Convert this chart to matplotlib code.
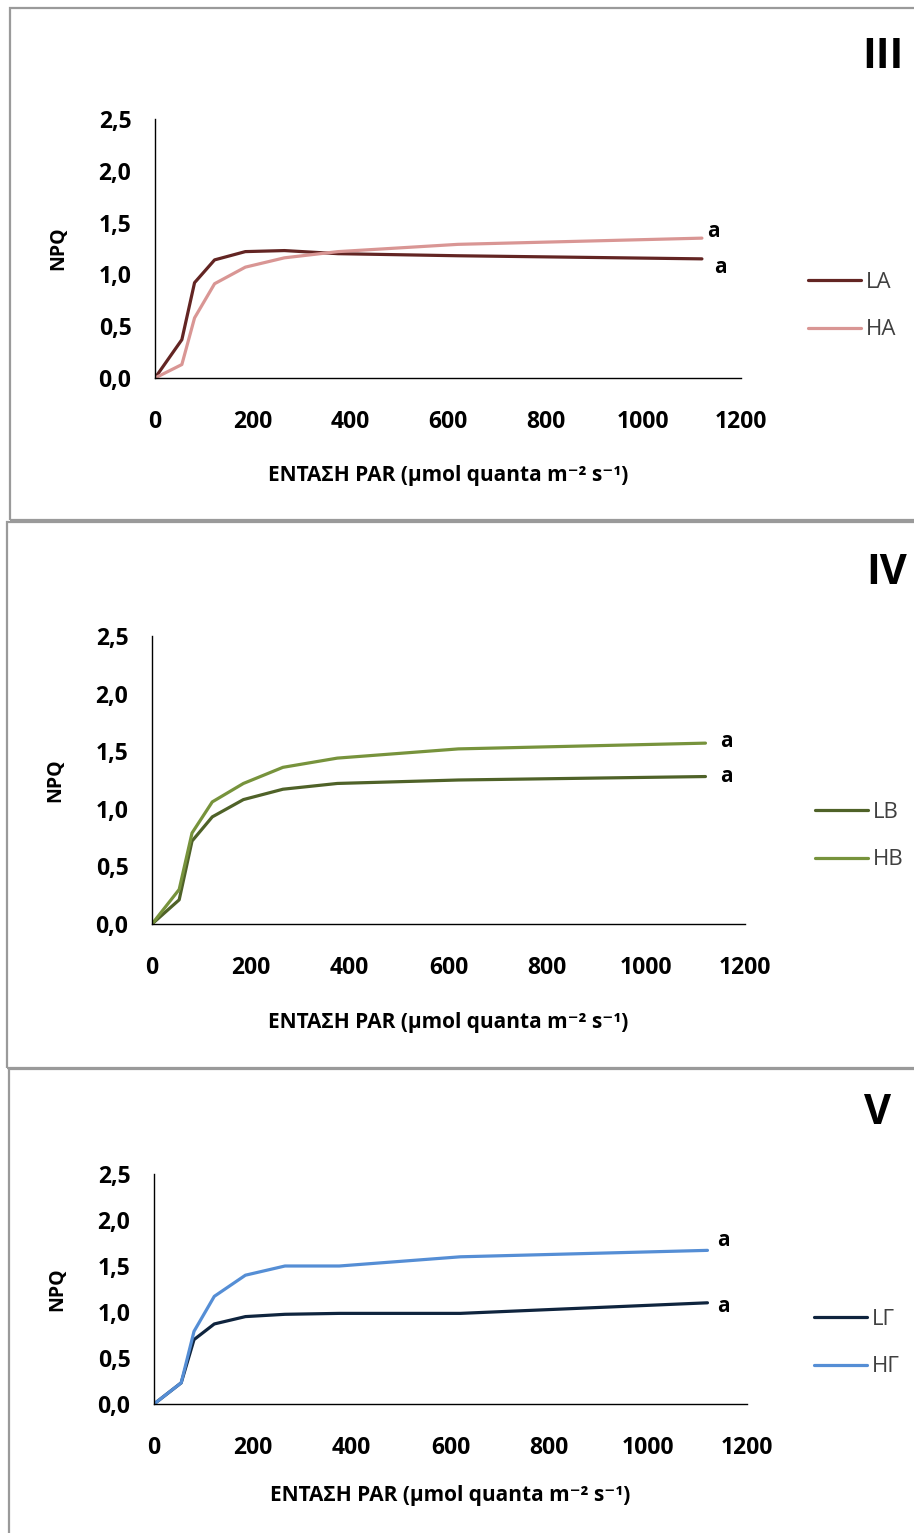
import matplotlib
matplotlib.use('Agg')
import matplotlib.pyplot as plt
from matplotlib.patches import Rectangle

plt.rcParams['font.family'] = ['Open Sans', 'DejaVu Sans']

# light intensities of the light-curve steps (μmol quanta m-2 s-1)
par = [0, 55, 81, 122, 185, 265, 375, 620, 1120]

# NPQ per treatment
npq_la = [0.0, 0.37, 0.92, 1.14, 1.22, 1.23, 1.20, 1.18, 1.15]
npq_ha = [0.0, 0.13, 0.58, 0.91, 1.07, 1.16, 1.22, 1.29, 1.35]
npq_lb = [0.0, 0.21, 0.72, 0.93, 1.08, 1.17, 1.22, 1.25, 1.28]
npq_hb = [0.0, 0.30, 0.79, 1.06, 1.22, 1.36, 1.44, 1.52, 1.57]
npq_lg = [0.0, 0.23, 0.70, 0.87, 0.95, 0.975, 0.985, 0.985, 1.10]
npq_hg = [0.0, 0.23, 0.79, 1.17, 1.40, 1.50, 1.50, 1.60, 1.67]

x_ticks = [0, 200, 400, 600, 800, 1000, 1200]
y_ticks = [0.0, 0.5, 1.0, 1.5, 2.0, 2.5]
y_tick_labels = ['0,0', '0,5', '1,0', '1,5', '2,0', '2,5']

W, H = 914, 1533
fig = plt.figure(figsize=(W / 100, H / 100), dpi=100)


def fx(px):
    return px / W


def fy(py):
    return 1 - py / H


def add_frame(x0, y0, x1, y1):
    fig.patches.append(Rectangle((fx(x0), fy(y1)), fx(x1) - fx(x0), fy(y0) - fy(y1),
                                 transform=fig.transFigure, fill=False,
                                 edgecolor='#9a9a9a', linewidth=1.6, zorder=0))


def draw_panel(box, numeral, numeral_xy, series, a_offsets, legend_xy, xlabel_pad):
    x0, y0, x1, y1 = box
    ax = fig.add_axes([fx(x0), fy(y1), fx(x1) - fx(x0), fy(y0) - fy(y1)])
    for (vals, color, label), off in zip(series, a_offsets):
        ax.plot(par, vals, color=color, lw=2.3, label=label, solid_capstyle='round')
        ax.annotate('a', (par[-1], vals[-1]), xytext=off, textcoords='offset points',
                    ha='left', va='center', fontsize=15, fontweight='bold')
    ax.set_xlim(0, 1200)
    ax.set_ylim(0, 2.5)
    ax.set_xticks(x_ticks)
    ax.set_yticks(y_ticks)
    ax.set_yticklabels(y_tick_labels)
    ax.tick_params(length=0, labelsize=16.5)
    ax.tick_params(axis='x', pad=23)
    ax.tick_params(axis='y', pad=17)
    for lab in ax.get_xticklabels() + ax.get_yticklabels():
        lab.set_fontweight('bold')
    for side in ['top', 'right']:
        ax.spines[side].set_visible(False)
    for side in ['left', 'bottom']:
        ax.spines[side].set_linewidth(1.0)
    ax.set_ylabel('NPQ', fontsize=14, fontweight='bold', labelpad=22)
    ax.set_xlabel('ΕΝΤΑΣΗ PAR (μmol quanta m⁻² s⁻¹)', fontsize=15,
                  fontweight='bold', labelpad=xlabel_pad)
    ax.legend(loc='center left', bbox_to_anchor=(fx(legend_xy[0]), fy(legend_xy[1])),
              bbox_transform=fig.transFigure, frameon=False, fontsize=16,
              handlelength=2.4, handletextpad=0.2, labelspacing=1.2,
              borderpad=0, borderaxespad=0, labelcolor='#404040')
    fig.text(fx(numeral_xy[0]), fy(numeral_xy[1]), numeral, fontsize=30,
             fontweight='bold', ha='center', va='center')
    return ax


add_frame(10, 8, 930, 520)
add_frame(7, 522, 930, 1068)
add_frame(9, 1069, 930, 1545)

draw_panel((155, 119, 741, 378), 'III', (883, 57),
           [(npq_la, '#632523', 'LA'), (npq_ha, '#D99694', 'HA')],
           [(8.5, -6), (3.8, 4.5)], (808, 306), 22)
draw_panel((152, 636, 745, 924), 'IV', (887, 573),
           [(npq_lb, '#4F6228', 'LB'), (npq_hb, '#77933C', 'HB')],
           [(10.5, 0), (10.5, 1)], (815, 836), 23)
draw_panel((154, 1174, 747, 1404), 'V', (878, 1113),
           [(npq_lg, '#0F243E', 'LΓ'), (npq_hg, '#558ED5', 'HΓ')],
           [(7, -2.5), (7, 7)], (814, 1343), 18)

fig.savefig('out.png', dpi=100)
